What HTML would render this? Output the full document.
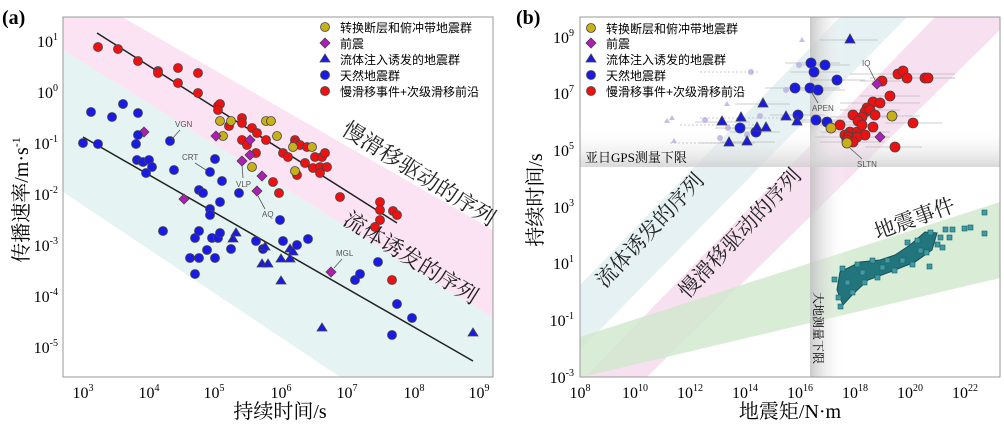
<!DOCTYPE html>
<html><head><meta charset="utf-8"><style>
body{margin:0;background:#fff;}
svg{display:block;font-family:"Liberation Serif","Noto Serif CJK SC",serif;}
.s{font-family:"Liberation Sans","Noto Sans CJK SC",sans-serif;}
</style></head><body>
<svg width="1004" height="424" viewBox="0 0 1004 424" xmlns="http://www.w3.org/2000/svg">
<defs>
<linearGradient id="gv" x1="0" x2="1" y1="0" y2="0"><stop offset="0" stop-color="#c0c0c0" stop-opacity=".85"/><stop offset="1" stop-color="#fff" stop-opacity="0"/></linearGradient>
<linearGradient id="gh" x1="0" x2="0" y1="0" y2="1"><stop offset="0" stop-color="#fff" stop-opacity="0"/><stop offset="1" stop-color="#cfcfcf" stop-opacity=".8"/></linearGradient>
<clipPath id="ca"><rect x="63" y="17" width="430" height="360"/></clipPath>
<clipPath id="cb"><rect x="580" y="17" width="420" height="360"/></clipPath>
</defs>
<!-- Panel a -->
<text x="2" y="24" font-size="20" font-weight="bold">(a)</text>
<g clip-path="url(#ca)">
<polygon points="63,-17 493,230 493,318 63,50" fill="#fbe3f4"/>
<polygon points="63,50 493,318 493,377 340,377 63,192" fill="#e6f3f3"/>
<line x1="97" y1="33" x2="397" y2="223" stroke="#222" stroke-width="1.5"/>
<line x1="83" y1="137" x2="473" y2="361" stroke="#222" stroke-width="1.5"/>
</g>
<rect x="63" y="17" width="430" height="360" fill="none" stroke="#999"/>
<g font-size="16" text-anchor="middle">
<text x="83" y="398">10<tspan font-size="10" dy="-7">3</tspan></text>
<text x="149" y="398">10<tspan font-size="10" dy="-7">4</tspan></text>
<text x="214" y="398">10<tspan font-size="10" dy="-7">5</tspan></text>
<text x="281" y="398">10<tspan font-size="10" dy="-7">6</tspan></text>
<text x="347" y="398">10<tspan font-size="10" dy="-7">7</tspan></text>
<text x="414" y="398">10<tspan font-size="10" dy="-7">8</tspan></text>
<text x="479" y="398">10<tspan font-size="10" dy="-7">9</tspan></text>
</g>
<g font-size="16" text-anchor="end">
<text x="58" y="47">10<tspan font-size="10" dy="-7">1</tspan></text>
<text x="58" y="98">10<tspan font-size="10" dy="-7">0</tspan></text>
<text x="58" y="149">10<tspan font-size="10" dy="-7">-1</tspan></text>
<text x="58" y="200">10<tspan font-size="10" dy="-7">-2</tspan></text>
<text x="58" y="251">10<tspan font-size="10" dy="-7">-3</tspan></text>
<text x="58" y="302">10<tspan font-size="10" dy="-7">-4</tspan></text>
<text x="58" y="353">10<tspan font-size="10" dy="-7">-5</tspan></text>
</g>
<text x="280" y="418" font-size="20" text-anchor="middle">持续时间/s</text>
<text transform="translate(28,200) rotate(-90)" font-size="20" text-anchor="middle">传播速率/m·s<tspan font-size="12" dy="-8">-1</tspan></text>
<g font-size="22" fill="#222" text-anchor="middle">
<text transform="translate(415,180) rotate(32)">慢滑移驱动的序列</text>
<text transform="translate(407,264) rotate(32)">流体诱发的序列</text>
</g>
<!-- points a -->
<g stroke="#444" stroke-width="0.8">
<g fill="#ee1111">
<circle cx="98" cy="47" r="4.5"/><circle cx="118" cy="49" r="4.5"/><circle cx="138" cy="61" r="4.5"/><circle cx="158" cy="71" r="4.5"/><circle cx="158" cy="73" r="4.5"/><circle cx="178" cy="68" r="4.5"/><circle cx="178" cy="83" r="4.5"/><circle cx="198" cy="73" r="4.5"/><circle cx="198" cy="93" r="4.5"/><circle cx="218" cy="106" r="4.5"/><circle cx="220" cy="104" r="4.5"/><circle cx="218" cy="110" r="4.5"/><circle cx="229" cy="126" r="4.5"/><circle cx="242" cy="118" r="4.5"/><circle cx="242" cy="123" r="4.5"/><circle cx="252" cy="128" r="4.5"/><circle cx="257" cy="133" r="4.5"/><circle cx="242" cy="140" r="4.5"/><circle cx="247" cy="145" r="4.5"/><circle cx="266" cy="140" r="4.5"/><circle cx="256" cy="153" r="4.5"/><circle cx="273" cy="182" r="4.5"/><circle cx="279" cy="193" r="4.5"/><circle cx="283" cy="153" r="4.5"/><circle cx="288" cy="157" r="4.5"/><circle cx="295" cy="140" r="4.5"/><circle cx="295" cy="143" r="4.5"/><circle cx="300" cy="145" r="4.5"/><circle cx="307" cy="147" r="4.5"/><circle cx="297" cy="175" r="4.5"/><circle cx="305" cy="163" r="4.5"/><circle cx="313" cy="168" r="4.5"/><circle cx="315" cy="157" r="4.5"/><circle cx="322" cy="157" r="4.5"/><circle cx="325" cy="153" r="4.5"/><circle cx="320" cy="167" r="4.5"/><circle cx="320" cy="173" r="4.5"/><circle cx="327" cy="167" r="4.5"/><circle cx="340" cy="197" r="4.5"/><circle cx="380" cy="202" r="4.5"/><circle cx="380" cy="210" r="4.5"/><circle cx="380" cy="220" r="4.5"/><circle cx="375" cy="227" r="4.5"/><circle cx="393" cy="211" r="4.5"/><circle cx="397" cy="215" r="4.5"/><circle cx="392" cy="280" r="4.5"/>
</g>
<g fill="#c8b018">
<circle cx="220" cy="121" r="4.5"/><circle cx="223" cy="136" r="4.5"/><circle cx="231" cy="121" r="4.5"/><circle cx="252" cy="167" r="4.5"/><circle cx="266" cy="121" r="4.5"/><circle cx="271" cy="121" r="4.5"/><circle cx="277" cy="136" r="4.5"/><circle cx="293" cy="147" r="4.5"/><circle cx="312" cy="147" r="4.5"/><circle cx="295" cy="171" r="4.5"/>
</g>
<g fill="#b01cb8">
<path d="M144 127l5 5-5 5-5-5z"/><path d="M184 194l5 5-5 5-5-5z"/><path d="M216 131l5 5-5 5-5-5z"/><path d="M250 135l5 5-5 5-5-5z"/><path d="M250 150l5 5-5 5-5-5z"/><path d="M242 156l5 5-5 5-5-5z"/><path d="M262 171l5 5-5 5-5-5z"/><path d="M257 186l5 5-5 5-5-5z"/><path d="M331 267l5 5-5 5-5-5z"/>
</g>
<g fill="#1a1ae6">
<circle cx="83" cy="143" r="4.5"/><circle cx="91" cy="112" r="4.5"/><circle cx="98" cy="144" r="4.5"/><circle cx="112" cy="117" r="4.5"/><circle cx="123" cy="104" r="4.5"/><circle cx="138" cy="113" r="4.5"/><circle cx="138" cy="135" r="4.5"/><circle cx="136" cy="144" r="4.5"/><circle cx="137" cy="160" r="4.5"/><circle cx="143" cy="162" r="4.5"/><circle cx="149" cy="160" r="4.5"/><circle cx="152" cy="167" r="4.5"/><circle cx="146" cy="173" r="4.5"/><circle cx="170" cy="141" r="4.5"/><circle cx="174" cy="170" r="4.5"/><circle cx="163" cy="231" r="4.5"/><circle cx="190" cy="258" r="4.5"/><circle cx="195" cy="238" r="4.5"/><circle cx="195" cy="274" r="4.5"/><circle cx="199" cy="231" r="4.5"/><circle cx="199" cy="258" r="4.5"/><circle cx="199" cy="190" r="4.5"/><circle cx="203" cy="193" r="4.5"/><circle cx="207" cy="250" r="4.5"/><circle cx="210" cy="172" r="4.5"/><circle cx="210" cy="209" r="4.5"/><circle cx="210" cy="215" r="4.5"/><circle cx="212" cy="238" r="4.5"/><circle cx="215" cy="159" r="4.5"/><circle cx="215" cy="258" r="4.5"/><circle cx="218" cy="238" r="4.5"/><circle cx="220" cy="233" r="4.5"/><circle cx="220" cy="202" r="4.5"/><circle cx="222" cy="181" r="4.5"/><circle cx="231" cy="249" r="4.5"/><circle cx="239" cy="193" r="4.5"/><circle cx="256" cy="241" r="4.5"/><circle cx="263" cy="249" r="4.5"/><circle cx="280" cy="220" r="4.5"/><circle cx="283" cy="241" r="4.5"/><circle cx="297" cy="245" r="4.5"/><circle cx="308" cy="239" r="4.5"/><circle cx="355" cy="280" r="4.5"/><circle cx="360" cy="274" r="4.5"/><circle cx="378" cy="262" r="4.5"/><circle cx="397" cy="304" r="4.5"/><circle cx="412" cy="318" r="4.5"/><circle cx="392" cy="335" r="4.5"/>
<path d="M233 234l5 8h-10z"/><path d="M236 228l5 8h-10z"/><path d="M265 242l5 8h-10z"/><path d="M262 259l5 8h-10z"/><path d="M268 259l5 8h-10z"/><path d="M281 254l5 8h-10z"/><path d="M281 276l5 8h-10z"/><path d="M290 254l5 8h-10z"/><path d="M290 244l5 8h-10z"/><path d="M293 247l5 8h-10z"/><path d="M322 323l5 8h-10z"/><path d="M473 328l5 8h-10z"/>
</g>
</g>
<g class="s" font-size="8" fill="#555">
<text x="175" y="127">VGN</text><text x="182" y="160">CRT</text><text x="236" y="187">VLP</text><text x="262" y="217">AQ</text><text x="336" y="256">MGL</text>
</g>
<g stroke="#555" stroke-width="0.8">
<line x1="180" y1="130" x2="172" y2="139"/><line x1="195" y1="163" x2="206" y2="170"/><line x1="243" y1="178" x2="242" y2="165"/><line x1="265" y1="209" x2="258" y2="196"/><line x1="342" y1="259" x2="334" y2="268"/>
</g>
<!-- legend a -->
<g stroke="#444" stroke-width="0.8">
<circle cx="325" cy="27" r="4.5" fill="#c8b018"/>
<path d="M325 38l5 5-5 5-5-5z" fill="#b01cb8"/>
<path d="M325 54l5 8h-10z" fill="#1a1ae6"/>
<circle cx="325" cy="75" r="4.5" fill="#1a1ae6"/>
<circle cx="325" cy="91" r="4.5" fill="#ee1111"/>
</g>
<g class="s" font-size="12">
<text x="340" y="32">转换断层和俯冲带地震群</text><text x="340" y="48">前震</text><text x="340" y="64">流体注入诱发的地震群</text><text x="340" y="80">天然地震群</text><text x="340" y="96">慢滑移事件+次级滑移前沿</text>
</g>

<!-- Panel b -->
<text x="516" y="24" font-size="20" font-weight="bold">(b)</text>
<g clip-path="url(#cb)">
<polygon points="580,285 840,17 907,17 580,350" fill="#e2f0f2" opacity=".9"/>
<polygon points="585,377 935,17 1000,17 1000,30 647,377" fill="#f6def0" opacity=".9"/>
<polygon points="580,337 1000,202 1000,278 582,377 580,377" fill="#cfe8cc" opacity=".8"/>
<rect x="810" y="17" width="35" height="360" fill="url(#gv)"/>
<rect x="580" y="127" width="420" height="40" fill="url(#gh)"/>
</g>
<rect x="580" y="17" width="420" height="360" fill="none" stroke="#999"/>
<g font-size="16" text-anchor="middle">
<text x="580" y="398">10<tspan font-size="10" dy="-7">8</tspan></text>
<text x="635" y="398">10<tspan font-size="10" dy="-7">10</tspan></text>
<text x="690" y="398">10<tspan font-size="10" dy="-7">12</tspan></text>
<text x="745" y="398">10<tspan font-size="10" dy="-7">14</tspan></text>
<text x="800" y="398">10<tspan font-size="10" dy="-7">16</tspan></text>
<text x="855" y="398">10<tspan font-size="10" dy="-7">18</tspan></text>
<text x="910" y="398">10<tspan font-size="10" dy="-7">20</tspan></text>
<text x="965" y="398">10<tspan font-size="10" dy="-7">22</tspan></text>
</g>
<g font-size="16" text-anchor="end">
<text x="574" y="43">10<tspan font-size="10" dy="-7">9</tspan></text>
<text x="574" y="99">10<tspan font-size="10" dy="-7">7</tspan></text>
<text x="574" y="156">10<tspan font-size="10" dy="-7">5</tspan></text>
<text x="574" y="213">10<tspan font-size="10" dy="-7">3</tspan></text>
<text x="574" y="269">10<tspan font-size="10" dy="-7">1</tspan></text>
<text x="574" y="326">10<tspan font-size="10" dy="-7">-1</tspan></text>
<text x="574" y="383">10<tspan font-size="10" dy="-7">-3</tspan></text>
</g>
<text x="790" y="418" font-size="20" text-anchor="middle">地震矩/N·m</text>
<text transform="translate(542,200) rotate(-90)" font-size="20" text-anchor="middle">持续时间/s</text>
<g font-size="21" fill="#222" text-anchor="middle">
<text transform="translate(655,235) rotate(-47)">流体诱发的序列</text>
<text transform="translate(745,238) rotate(-47)">慢滑移驱动的序列</text>
<text transform="translate(917,225) rotate(-20)">地震事件</text>
</g>
<text x="585" y="162" font-size="13">亚日GPS测量下限</text>
<text transform="translate(814,292) rotate(90)" font-size="12">大地测量下限</text>
<!-- error bars b -->
<g stroke="#bbb" stroke-width="0.8">
<line x1="785" y1="63" x2="840" y2="63"/><line x1="800" y1="65" x2="850" y2="65"/><line x1="790" y1="72" x2="840" y2="72"/><line x1="810" y1="80" x2="865" y2="80"/><line x1="765" y1="88" x2="830" y2="88"/><line x1="785" y1="88" x2="840" y2="88"/><line x1="795" y1="90" x2="845" y2="90"/><line x1="770" y1="115" x2="825" y2="115"/><line x1="790" y1="120" x2="845" y2="120"/><line x1="800" y1="122" x2="855" y2="122"/><line x1="715" y1="128" x2="765" y2="128"/><line x1="730" y1="132" x2="780" y2="132"/>
<line x1="820" y1="40" x2="878" y2="40"/><line x1="735" y1="104" x2="790" y2="104"/><line x1="695" y1="122" x2="750" y2="122"/><line x1="700" y1="143" x2="755" y2="143"/><line x1="720" y1="142" x2="775" y2="142"/>
<line x1="850" y1="74" x2="955" y2="74"/><line x1="870" y1="78" x2="955" y2="78"/><line x1="905" y1="78" x2="955" y2="78"/><line x1="860" y1="81" x2="910" y2="81"/><line x1="860" y1="96" x2="920" y2="96"/><line x1="840" y1="103" x2="920" y2="103"/><line x1="840" y1="110" x2="900" y2="110"/><line x1="830" y1="117" x2="895" y2="117"/><line x1="820" y1="125" x2="870" y2="125"/><line x1="885" y1="123" x2="942" y2="123"/><line x1="820" y1="132" x2="890" y2="132"/><line x1="815" y1="137" x2="890" y2="137"/><line x1="820" y1="142" x2="885" y2="142"/><line x1="865" y1="147" x2="922" y2="147"/><line x1="860" y1="116" x2="920" y2="116"/>
<line x1="700" y1="118" x2="790" y2="118" stroke-dasharray="2,2"/><line x1="680" y1="125" x2="760" y2="125" stroke-dasharray="2,2"/><line x1="700" y1="72" x2="760" y2="72" stroke-dasharray="2,2"/><line x1="670" y1="143" x2="740" y2="143" stroke-dasharray="2,2"/>
</g>
<g fill="#b9aee0" opacity=".8">
<circle cx="751" cy="72" r="3"/><circle cx="799" cy="65" r="3"/><circle cx="786" cy="90" r="3"/><circle cx="760" cy="116" r="3"/><circle cx="728" cy="128" r="3"/><circle cx="747" cy="135" r="3"/><circle cx="705" cy="120" r="3"/><circle cx="720" cy="138" r="3"/>
<path d="M802 37l3 5h-6z"/><path d="M727 101l3 5h-6z"/><path d="M672 115l3 5h-6z"/><path d="M667 118l3 5h-6z"/><path d="M674 138l3 5h-6z"/><path d="M740 125l3 5h-6z"/><path d="M783 114l3 5h-6z"/>
</g>
<g stroke="#444" stroke-width="0.8">
<g fill="#1a1ae6">
<circle cx="811" cy="63" r="5"/><circle cx="825" cy="65" r="5"/><circle cx="814" cy="72" r="5"/><circle cx="837" cy="80" r="5"/><circle cx="795" cy="88" r="5"/><circle cx="810" cy="88" r="5"/><circle cx="818" cy="90" r="5"/><circle cx="798" cy="115" r="5"/><circle cx="816" cy="120" r="5"/><circle cx="827" cy="122" r="5"/><circle cx="740" cy="128" r="5"/><circle cx="756" cy="132" r="5"/>
<path d="M850 34l5 9h-10z"/><path d="M763 98l5 9h-10z"/><path d="M722 116l5 9h-10z"/><path d="M741 112l5 9h-10z"/><path d="M786 111l5 9h-10z"/><path d="M797 116l5 9h-10z"/><path d="M766 122l5 9h-10z"/><path d="M757 122l5 9h-10z"/><path d="M729 137l5 9h-10z"/><path d="M747 136l5 9h-10z"/>
</g>
<g fill="#ee1111">
<circle cx="898" cy="74" r="5"/><circle cx="903" cy="71" r="5"/><circle cx="907" cy="78" r="5"/><circle cx="925" cy="78" r="5"/><circle cx="928" cy="78" r="5"/><circle cx="882" cy="81" r="5"/><circle cx="890" cy="96" r="5"/><circle cx="873" cy="102" r="5"/><circle cx="880" cy="103" r="5"/><circle cx="867" cy="108" r="5"/><circle cx="865" cy="112" r="5"/><circle cx="870" cy="110" r="5"/><circle cx="853" cy="115" r="5"/><circle cx="862" cy="117" r="5"/><circle cx="858" cy="121" r="5"/><circle cx="840" cy="125" r="5"/><circle cx="873" cy="127" r="5"/><circle cx="913" cy="123" r="5"/><circle cx="850" cy="132" r="5"/><circle cx="857" cy="132" r="5"/><circle cx="845" cy="135" r="5"/><circle cx="848" cy="137" r="5"/><circle cx="865" cy="135" r="5"/><circle cx="857" cy="137" r="5"/><circle cx="853" cy="142" r="5"/><circle cx="895" cy="147" r="5"/><circle cx="847" cy="140" r="5"/><circle cx="862" cy="125" r="5"/><circle cx="875" cy="115" r="5"/>
</g>
<g fill="#c8b018"><circle cx="831" cy="128" r="5"/><circle cx="892" cy="116" r="5"/><circle cx="847" cy="143" r="5"/></g>
<g fill="#b01cb8"><path d="M877 79l5 5-5 5-5-5z"/><path d="M880 132l5 5-5 5-5-5z"/></g>
</g>
<g class="s" font-size="8" fill="#555"><text x="812" y="111">APEN</text><text x="862" y="66">IQ</text><text x="857" y="167">SLTN</text></g>
<g stroke="#555" stroke-width="0.8"><line x1="818" y1="103" x2="812" y2="93"/><line x1="869" y1="68" x2="875" y2="80"/><line x1="862" y1="159" x2="850" y2="148"/></g>
<!-- earthquake cluster -->
<polygon points="840,272 860,262 880,260 895,255 910,245 925,232 937,233 932,250 915,262 890,272 868,280 852,295 843,305 837,290" fill="#23757d" stroke="#155057"/>
<g fill="#3f9aa3" stroke="#1c5e66" stroke-width="0.6">
<rect x="982" y="210" width="5" height="5"/><rect x="982" y="231" width="5" height="5"/><rect x="968" y="225" width="5" height="5"/><rect x="962" y="226" width="5" height="5"/><rect x="950" y="227" width="5" height="5"/><rect x="943" y="227" width="5" height="5"/><rect x="947" y="235" width="5" height="5"/><rect x="938" y="235" width="5" height="5"/><rect x="928" y="230" width="5" height="5"/><rect x="935" y="242" width="5" height="5"/><rect x="940" y="245" width="5" height="5"/><rect x="924" y="250" width="5" height="5"/><rect x="927" y="264" width="5" height="5"/><rect x="905" y="240" width="5" height="5"/><rect x="915" y="238" width="5" height="5"/><rect x="910" y="262" width="5" height="5"/><rect x="900" y="258" width="5" height="5"/><rect x="885" y="258" width="5" height="5"/><rect x="870" y="258" width="5" height="5"/><rect x="855" y="262" width="5" height="5"/><rect x="840" y="266" width="5" height="5"/><rect x="832" y="277" width="5" height="5"/><rect x="836" y="295" width="5" height="5"/><rect x="838" y="304" width="5" height="5"/><rect x="850" y="290" width="5" height="5"/><rect x="862" y="280" width="5" height="5"/><rect x="875" y="275" width="5" height="5"/><rect x="892" y="268" width="5" height="5"/><rect x="845" y="280" width="5" height="5"/><rect x="860" y="270" width="5" height="5"/><rect x="880" y="265" width="5" height="5"/><rect x="918" y="248" width="5" height="5"/>
</g>
<!-- legend b -->
<g stroke="#444" stroke-width="0.8">
<circle cx="591" cy="28" r="4.5" fill="#c8b018"/>
<path d="M591 38l5 5-5 5-5-5z" fill="#b01cb8"/>
<path d="M591 54l5 8h-10z" fill="#1a1ae6"/>
<circle cx="591" cy="75" r="4.5" fill="#1a1ae6"/>
<circle cx="591" cy="91" r="4.5" fill="#ee1111"/>
</g>
<g class="s" font-size="12">
<text x="606" y="33">转换断层和俯冲带地震群</text><text x="606" y="48">前震</text><text x="606" y="64">流体注入诱发的地震群</text><text x="606" y="80">天然地震群</text><text x="606" y="96">慢滑移事件+次级滑移前沿</text>
</g>
</svg>
</body></html>
